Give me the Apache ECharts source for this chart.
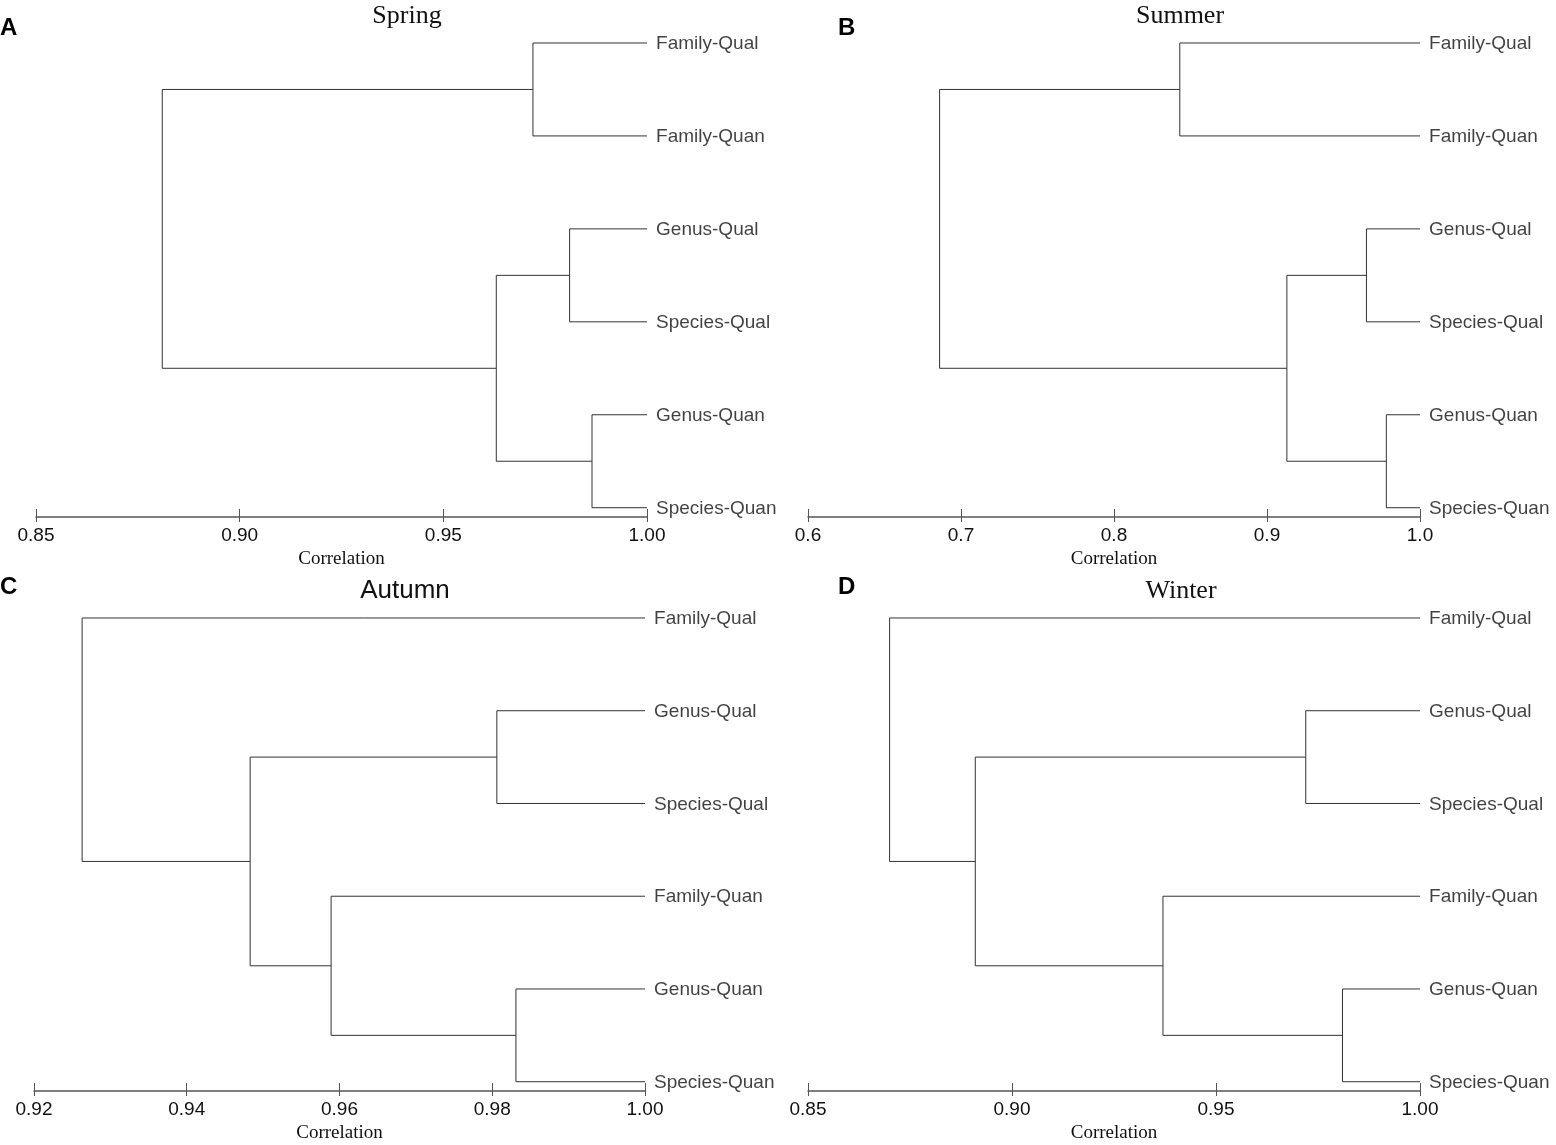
<!DOCTYPE html>
<html>
<head>
<meta charset="utf-8">
<script src="https://cdn.jsdelivr.net/npm/echarts@6/dist/echarts.min.js"></script>
<style>
html,body{margin:0;padding:0;background:#fff;}
#chart{width:1556px;height:1145px;}
</style>
</head>
<body>
<div id="chart"></div>
<script>
// ---- Data ----
const springLeaves = ['Family-Qual','Family-Quan','Genus-Qual','Species-Qual','Genus-Quan','Species-Quan'];
// merges: [childA, childB, correlation]; leaves 0..5, merged clusters numbered 6,7,...
const springMerges = [[0,1,0.972],[2,3,0.981],[4,5,0.9865],[7,8,0.963],[6,9,0.881]];
const springTicks = [0.85, 1.00, 0.05];

const summerLeaves = ['Family-Qual','Family-Quan','Genus-Qual','Species-Qual','Genus-Quan','Species-Quan'];
const summerMerges = [[0,1,0.843],[2,3,0.965],[4,5,0.978],[7,8,0.913],[6,9,0.686]];
const summerTicks = [0.6, 1.0, 0.1];

const autumnLeaves = ['Family-Qual','Genus-Qual','Species-Qual','Family-Quan','Genus-Quan','Species-Quan'];
const autumnMerges = [[1,2,0.9806],[4,5,0.9831],[3,7,0.9589],[6,8,0.9483],[0,9,0.9263]];
const autumnTicks = [0.92, 1.00, 0.02];

const winterLeaves = ['Family-Qual','Genus-Qual','Species-Qual','Family-Quan','Genus-Quan','Species-Quan'];
const winterMerges = [[1,2,0.972],[4,5,0.981],[3,7,0.937],[6,8,0.891],[0,9,0.870]];
const winterTicks = [0.85, 1.00, 0.05];

const panelTitles = ['Spring','Summer','Autumn','Winter'];
const panelLetters = ['A','B','C','D'];
const axisName = 'Correlation';

// ---- Build ----
function buildLinks(leaves, merges){
  const nodes = leaves.map((n,i)=>({x:1.0, y:i}));
  const links = [];
  merges.forEach(m=>{
    const a = nodes[m[0]], b = nodes[m[1]], h = m[2];
    links.push({coords:[[a.x,a.y],[h,a.y],[h,b.y],[b.x,b.y]]});
    nodes.push({x:h, y:(a.y+b.y)/2});
  });
  return links;
}

const panels = [
  {leaves:springLeaves, merges:springMerges, ticks:springTicks, dec:2, left:36, width:611, top:33.7, bottom:517},
  {leaves:summerLeaves, merges:summerMerges, ticks:summerTicks, dec:1, left:808, width:612, top:33.7, bottom:517},
  {leaves:autumnLeaves, merges:autumnMerges, ticks:autumnTicks, dec:2, left:34, width:611, top:608.7, bottom:1091},
  {leaves:winterLeaves, merges:winterMerges, ticks:winterTicks, dec:2, left:808, width:612, top:608.7, bottom:1091}
];

const grid=[], xAxis=[], yAxis=[], series=[];
panels.forEach((p,i)=>{
  grid.push({left:p.left, width:p.width, top:p.top, height:p.bottom-p.top, containLabel:false, outerBoundsMode:'none'});
  const dec = p.dec;
  xAxis.push({
    type:'value', gridIndex:i, min:p.ticks[0], max:p.ticks[1], interval:p.ticks[2],
    position:'bottom',
    axisLine:{show:true, onZero:false, lineStyle:{color:'#555', width:1.5}},
    axisTick:{show:true, inside:false, length:5, lineStyle:{color:'#555', width:1}},
    axisLabel:{show:true, margin:9, color:'#111', fontSize:19, fontFamily:'Liberation Sans, Arial, sans-serif',
      formatter:v=>v.toFixed(dec)},
    splitLine:{show:false},
    name:axisName, nameLocation:'middle', nameGap:33,
    nameTextStyle:{color:'#111', fontSize:19, fontFamily:'Liberation Serif, Times New Roman, serif'}
  });
  xAxis.push({
    type:'value', gridIndex:i, min:p.ticks[0], max:p.ticks[1], interval:p.ticks[2],
    position:'bottom', offset:0,
    axisLine:{show:false, onZero:false},
    axisTick:{show:true, inside:true, length:8, lineStyle:{color:'#555', width:1}},
    axisLabel:{show:false}, splitLine:{show:false}
  });
  yAxis.push({type:'value', gridIndex:i, min:-0.1, max:5.1, inverse:true, show:false});
  series.push({
    type:'lines', coordinateSystem:'cartesian2d', polyline:true,
    xAxisIndex:2*i, yAxisIndex:i,
    lineStyle:{color:'#333', width:1, opacity:1},
    data:buildLinks(p.leaves, p.merges), silent:true, animation:false
  });
  series.push({
    type:'scatter', xAxisIndex:2*i, yAxisIndex:i, symbolSize:0.1,
    data:p.leaves.map((n,k)=>[1.0,k,n]),
    label:{show:true, position:'right', distance:9, color:'#111', fontSize:19, offset:[0,1],
      fontFamily:'Liberation Sans, Arial, sans-serif', formatter:d=>d.value[2]},
    silent:true, animation:false
  });
});

const graphic = [
  {type:'text', x:407, y:16, style:{text:panelTitles[0], font:'26px "Liberation Serif", serif', fill:'#111', align:'center', verticalAlign:'middle'}},
  {type:'text', x:1180, y:16, style:{text:panelTitles[1], font:'26px "Liberation Serif", serif', fill:'#111', align:'center', verticalAlign:'middle'}},
  {type:'text', x:405, y:591, style:{text:panelTitles[2], font:'26px "Liberation Sans", Arial, sans-serif', fill:'#111', align:'center', verticalAlign:'middle'}},
  {type:'text', x:1181, y:591, style:{text:panelTitles[3], font:'26px "Liberation Serif", serif', fill:'#111', align:'center', verticalAlign:'middle'}},
  {type:'text', x:0, y:28, style:{text:panelLetters[0], font:'bold 24px "Liberation Sans", Arial, sans-serif', fill:'#000', align:'left', verticalAlign:'middle'}},
  {type:'text', x:838, y:28, style:{text:panelLetters[1], font:'bold 24px "Liberation Sans", Arial, sans-serif', fill:'#000', align:'left', verticalAlign:'middle'}},
  {type:'text', x:0, y:587, style:{text:panelLetters[2], font:'bold 24px "Liberation Sans", Arial, sans-serif', fill:'#000', align:'left', verticalAlign:'middle'}},
  {type:'text', x:838, y:587, style:{text:panelLetters[3], font:'bold 24px "Liberation Sans", Arial, sans-serif', fill:'#000', align:'left', verticalAlign:'middle'}}
];

const chart = echarts.init(document.getElementById('chart'));
chart.setOption({
  backgroundColor:'#fff',
  animation:false,
  grid, xAxis, yAxis, series, graphic
});
</script>
</body>
</html>
